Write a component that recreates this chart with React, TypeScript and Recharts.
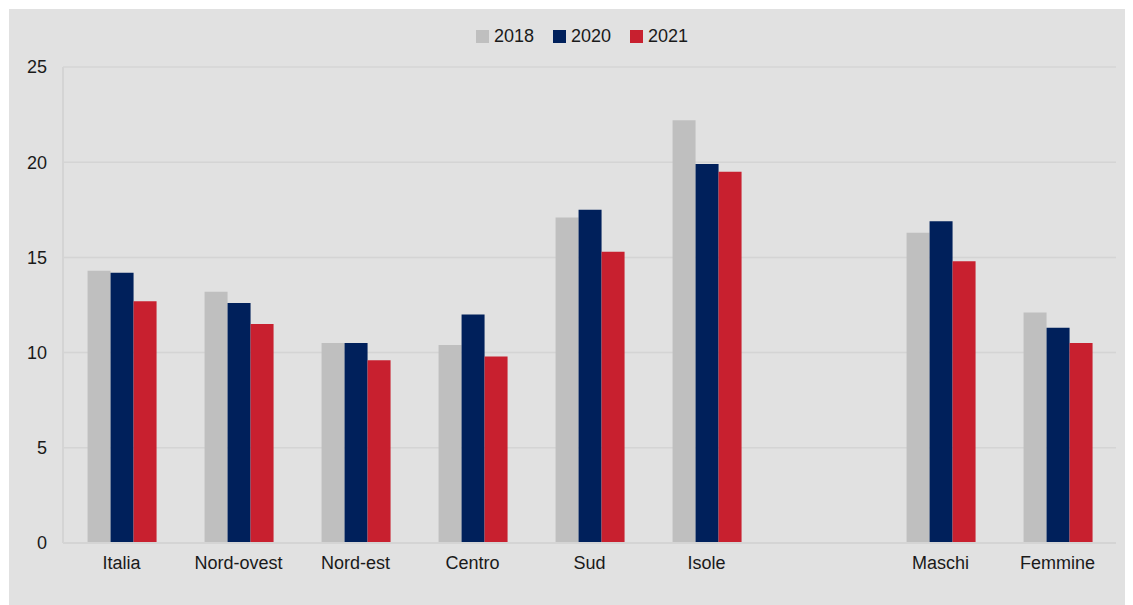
import { Bar, BarChart, CartesianGrid, Legend, XAxis, YAxis } from "recharts";

const categories = ["Italia", "Nord-ovest", "Nord-est", "Centro", "Sud", "Isole", "", "Maschi", "Femmine"];
const v2018 = [14.3, 13.2, 10.5, 10.4, 17.1, 22.2, null, 16.3, 12.1];
const v2020 = [14.2, 12.6, 10.5, 12.0, 17.5, 19.9, null, 16.9, 11.3];
const v2021 = [12.7, 11.5, 9.6, 9.8, 15.3, 19.5, null, 14.8, 10.5];
const yTicks = [0, 5, 10, 15, 20, 25];

const series = [
  { key: "y2018", label: "2018", color: "#bfbfbf" },
  { key: "y2020", label: "2020", color: "#00205b" },
  { key: "y2021", label: "2021", color: "#c8202f" },
];

const data = categories.map((name, i) => ({
  name,
  y2018: v2018[i],
  y2020: v2020[i],
  y2021: v2021[i],
}));

const FONT = "'Liberation Sans', Arial, sans-serif";

function LegendBox() {
  return (
    <div style={{ display: "flex", justifyContent: "center", gap: 19, paddingLeft: 22, fontFamily: FONT, fontSize: 18, lineHeight: "20px", color: "#1a1a1a" }}>
      {series.map((s) => (
        <div key={s.key} style={{ display: "flex", alignItems: "center" }}>
          <span style={{ display: "inline-block", width: 13, height: 13, background: s.color, marginRight: 5 }} />
          <span>{s.label}</span>
        </div>
      ))}
    </div>
  );
}

export default function App() {
  return (
    <div style={{ paddingTop: 1, paddingLeft: 1 }}>
      <div style={{ width: 1124, height: 596, background: "#e1e1e1" }}>
        <BarChart
          width={1124}
          height={596}
          data={data}
          margin={{ top: 38, right: 17, bottom: 32, left: 14 }}
          barCategoryGap="21%"
          barGap={0}
        >
          <CartesianGrid stroke="#d4d4d4" strokeWidth={1.5} vertical={false} />
          <XAxis
            dataKey="name"
            axisLine={{ stroke: "#d4d4d4", strokeWidth: 2 }}
            tickLine={false}
            tickMargin={7}
            interval={0}
            tick={{ fill: "#1a1a1a", fontSize: 18, fontFamily: FONT }}
          />
          <YAxis
            width={40}
            domain={[0, 25]}
            ticks={yTicks}
            axisLine={{ stroke: "#d4d4d4", strokeWidth: 2 }}
            tickLine={false}
            tickMargin={10}
            tick={{ fill: "#1a1a1a", fontSize: 18, fontFamily: FONT }}
          />
          <Legend
            verticalAlign="top"
            content={() => <LegendBox />}
            wrapperStyle={{ top: 17, left: 0, width: 1124 }}
          />
          {series.map((s) => (
            <Bar key={s.key} dataKey={s.key} name={s.label} fill={s.color} isAnimationActive={false} />
          ))}
        </BarChart>
      </div>
    </div>
  );
}
